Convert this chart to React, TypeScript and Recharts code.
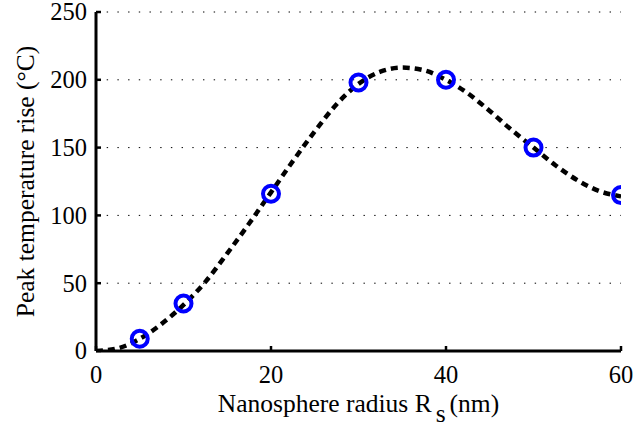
import { ComposedChart, Line, Scatter, XAxis, YAxis, CartesianGrid, Label } from 'recharts';

const radius = [5, 10, 20, 30, 40, 50, 60];
const peakRise = [9, 35, 116, 198, 200, 150, 115];

const fitRadius = [0, 2.5, 5, 7.5, 10, 12.5, 15, 17.5, 20, 22.5, 25, 27.5, 30, 32.5, 35, 37.5, 40, 42.5, 45, 47.5, 50, 52.5, 55, 57.5, 60];
const fitRise = [0, 2, 9, 20, 34, 51, 72, 94, 117, 140, 162, 182, 197, 206, 209, 207, 200, 190, 177, 163, 150, 137, 126, 118, 114];

const xTicks = [0, 20, 40, 60];
const yTicks = [0, 50, 100, 150, 200, 250];

const markerRows = radius.map((x, i) => ({ x, y: peakRise[i] }));
const fitRows = fitRadius.map((x, i) => ({ x, y: fitRise[i] }));

const SERIF = "'Liberation Serif'";
const tickStyle = { fontFamily: SERIF, fontSize: 24.5 };
const titleStyle = { fontFamily: SERIF, fontSize: 25.5 };

const XTick = (props: any) => {
    const { x, payload } = props;
    const base = 351;
    return (
        <g>
            <line x1={x} x2={x} y1={base} y2={base - 5} stroke="#000" strokeWidth={2.5} />
            <text x={x} y={base + 32} textAnchor="middle" style={tickStyle} fill="#000">
                {payload.value}
            </text>
        </g>
    );
};

const YTick = (props: any) => {
    const { y, payload } = props;
    const base = 96;
    return (
        <g>
            <line x1={base} x2={base + 5} y1={y} y2={y} stroke="#000" strokeWidth={2.5} />
            <text x={base - 9} y={y} dy="0.34em" textAnchor="end" style={tickStyle} fill="#000">
                {payload.value}
            </text>
        </g>
    );
};

const XTitle = (props: any) => {
    const vb = props.viewBox;
    return (
        <text x={vb.x + vb.width / 2} y={412} textAnchor="middle" style={titleStyle} fill="#000">
            Nanosphere radius R<tspan dx={4} dy={10}>s</tspan>
            <tspan dx={4} dy={-10}>(nm)</tspan>
        </text>
    );
};

const YTitle = (props: any) => {
    const vb = props.viewBox;
    const cy = vb.y + vb.height / 2;
    return (
        <text x={34} y={cy} transform={`rotate(-90, 34, ${cy})`} textAnchor="middle" style={titleStyle} fill="#000">
            Peak temperature rise (°C)
        </text>
    );
};

const Circle = (props: any) => (
    <circle cx={props.cx} cy={props.cy} r={8} fill="none" stroke="#0000ff" strokeWidth={4} />
);

export default function App() {
    return (
        <div style={{ position: 'absolute', left: 0, top: 0, background: '#fff' }}>
            <ComposedChart width={637} height={430} margin={{ top: 12, right: 16, bottom: 0, left: 0 }}>
                <CartesianGrid vertical={false} stroke="#000" strokeDasharray="1.4 9.3" />
                <XAxis
                    type="number"
                    dataKey="x"
                    domain={[0, 60]}
                    ticks={xTicks}
                    height={79}
                    tickLine={false}
                    tick={<XTick />}
                    stroke="#000"
                    strokeWidth={3}
                    allowDataOverflow
                >
                    <Label content={XTitle} />
                </XAxis>
                <YAxis
                    type="number"
                    domain={[0, 250]}
                    ticks={yTicks}
                    width={96}
                    tickLine={false}
                    tick={<YTick />}
                    stroke="#000"
                    strokeWidth={3}
                    allowDataOverflow
                >
                    <Label content={YTitle} />
                </YAxis>
                <Scatter data={markerRows} dataKey="y" shape={<Circle />} isAnimationActive={false} />
                <Line
                    data={fitRows}
                    dataKey="y"
                    type="monotone"
                    stroke="#000"
                    strokeWidth={4.5}
                    strokeDasharray="7 5"
                    dot={false}
                    activeDot={false}
                    isAnimationActive={false}
                />
            </ComposedChart>
        </div>
    );
}
